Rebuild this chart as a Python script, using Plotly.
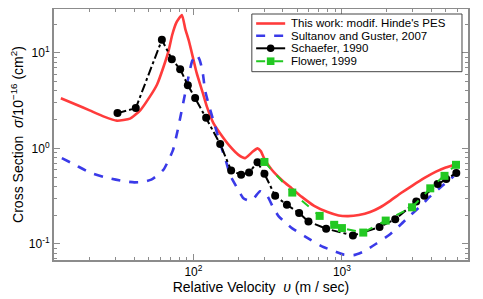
import plotly.graph_objects as go

# This work: modif. Hinde's PES
red_x = [12.8, 16, 20, 25, 30.5, 37.4, 43.8, 51, 57, 63, 68, 72, 77, 83.6, 88, 93, 100, 105, 115, 123,
         136, 151, 177, 200, 223, 250, 270, 285, 300, 337, 400, 460, 537, 650, 800, 950, 1100, 1300,
         1550, 1800, 2100, 2500, 3000, 3600, 4300, 5000, 5650]
red_y = [3.35, 2.9, 2.5, 2.15, 1.95, 2.05, 2.5, 3.5, 4.7, 7.2, 10.5, 15.5, 21, 25, 18, 13.5, 8.5, 6.2, 3.9, 2.75,
         1.85, 1.44, 1.04, 0.86, 0.79, 0.92, 1.0, 0.93, 0.78, 0.596, 0.455, 0.38, 0.31, 0.25, 0.215, 0.198, 0.195, 0.2,
         0.215, 0.24, 0.28, 0.34, 0.41, 0.49, 0.57, 0.63, 0.67]

# Sultanov and Guster, 2007
blue_x = [13.0, 16, 20, 25, 30, 35, 40, 46, 52, 58, 63, 68, 73, 78, 83, 88, 93, 98, 105, 110, 115, 120,
          130, 140, 151, 165, 177, 200, 217, 235, 255, 281, 313, 340, 374, 420, 460, 566, 733, 900, 1030,
          1200, 1400, 1700, 2100, 2500, 2900, 3400, 3900, 4700, 5650]
blue_y = [0.79, 0.67, 0.56, 0.5, 0.47, 0.45, 0.44, 0.445, 0.47, 0.53, 0.6, 0.75, 0.97, 1.5, 2.4, 3.8, 5.8, 8.2, 9.6, 8.5, 6.5, 4.0,
          2.5, 1.7, 1.13, 0.75, 0.52, 0.37, 0.3, 0.285, 0.3, 0.355, 0.32, 0.25, 0.195, 0.165, 0.146, 0.119, 0.094, 0.083, 0.077,
          0.076, 0.083, 0.1, 0.125, 0.16, 0.2, 0.25, 0.31, 0.4, 0.51]

# Schaefer, 1990
black_x = [30.8, 40.9, 61.3, 71.5, 81.4, 91.7, 102.7, 121.8, 151.4, 179.5, 209.5, 237, 270, 300.7, 355,
           426, 515, 595, 783, 1186, 1792, 2285, 3167, 3588, 4410, 5043, 5890]
black_y = [2.34, 2.64, 13.7, 8.59, 6.75, 4.59, 3.36, 2.09, 1.11, 0.586, 0.528, 0.558, 0.717, 0.541, 0.318,
           0.256, 0.210, 0.171, 0.144, 0.122, 0.150, 0.181, 0.277, 0.318, 0.422, 0.476, 0.550]

# Flower, 1999
green_x = [300.7, 463, 708, 887, 1000, 1392, 1972, 2966, 3935, 4908, 5862]
green_y = [0.72, 0.344, 0.196, 0.158, 0.146, 0.131, 0.175, 0.241, 0.381, 0.515, 0.672]

series_names = ["This work: modif. Hinde's PES", "Sultanov and Guster, 2007", "Schaefer, 1990", "Flower, 1999"]

x_tickvals = [100, 1000]
x_ticktext = ["10<sup>2</sup>", "10<sup>3</sup>"]
y_tickvals = [0.1, 1, 10]
y_ticktext = ["10<sup>-1</sup>", "10<sup>0</sup>", "10<sup>1</sup>"]

FONT = "Liberation Sans, Arial, Helvetica, sans-serif"
RED, BLUE, BLACK, GREEN = "#ff3b3b", "#3a3ae8", "black", "#22c822"

fig = go.Figure()
fig.add_trace(go.Scatter(x=red_x, y=red_y, mode="lines", name=series_names[0],
                         line=dict(color=RED, width=2.6, shape="spline", smoothing=0.5)))
fig.add_trace(go.Scatter(x=blue_x, y=blue_y, mode="lines", name=series_names[1],
                         line=dict(color=BLUE, width=2.6, dash="dash", shape="spline", smoothing=0.5)))
fig.add_trace(go.Scatter(x=black_x, y=black_y, mode="lines+markers", name=series_names[2],
                         line=dict(color=BLACK, width=2, dash="dashdot"),
                         marker=dict(symbol="circle", size=8, color=BLACK)))
fig.add_trace(go.Scatter(x=green_x, y=green_y, mode="lines+markers", name=series_names[3],
                         line=dict(color=GREEN, width=2, dash="dash"),
                         marker=dict(symbol="square", size=8, color=GREEN)))

minor_x = [v * m for v in (10, 100, 1000) for m in range(2, 10)]
minor_y = [v * m for v in (0.01, 0.1, 1, 10) for m in range(2, 10)]

axis_common = dict(type="log", showgrid=False, zeroline=False, showline=True, linecolor="#8c8c8c",
                   linewidth=2, mirror="ticks", ticks="inside", ticklen=6, tickcolor="#8c8c8c",
                   tickfont=dict(family=FONT, size=12, color="black"))

fig.update_xaxes(**axis_common, range=[1.061, 3.849], tickmode="array", tickvals=x_tickvals,
                 ticktext=x_ticktext,
                 minor=dict(tickmode="array", tickvals=minor_x, ticks="inside", ticklen=3,
                            tickcolor="#8c8c8c", showgrid=False),
                 title=dict(text="Relative Velocity  <i>υ</i> (m / sec)", standoff=2,
                            font=dict(family=FONT, size=14, color="black")))
fig.update_yaxes(**axis_common, range=[-1.17, 1.46], tickmode="array", tickvals=y_tickvals,
                 ticktext=y_ticktext,
                 minor=dict(tickmode="array", tickvals=minor_y, ticks="inside", ticklen=3,
                            tickcolor="#8c8c8c", showgrid=False),
                 title=dict(text="Cross Section  <i>σ</i>/10<sup>−16</sup> (cm<sup>2</sup>)", standoff=4,
                            font=dict(family=FONT, size=14, color="black")))

# Compact legend drawn in plot-area (paper) coordinates
PW, PH = 413.7, 251.0
def px(xp):
    return (xp - 54) / PW
def py(yp):
    return (260 - yp) / PH

shapes = [dict(type="rect", xref="paper", yref="paper", x0=px(251.7), x1=px(461.7), y0=py(71.7), y1=py(14),
               line=dict(color="#444444", width=1), fillcolor="white", layer="above")]
annotations = []
entry_y = [23.5, 35.8, 48.3, 61.2]
styles = [(RED, "solid", 2.6, None), (BLUE, "dash", 2.6, None), (BLACK, "solid", 2, "circle"), (GREEN, "dash", 2, "square")]
for name, yy, (col, dash, w, sym) in zip(series_names, entry_y, styles):
    shapes.append(dict(type="line", xref="paper", yref="paper", x0=px(256), x1=px(285), y0=py(yy), y1=py(yy),
                       line=dict(color=col, width=w, dash=dash), layer="above"))
    if sym:
        r = 3.8
        shapes.append(dict(type="circle" if sym == "circle" else "rect", xref="paper", yref="paper",
                           x0=px(270.5 - r), x1=px(270.5 + r), y0=py(yy + r), y1=py(yy - r),
                           line=dict(color=col, width=0), fillcolor=col, layer="above"))
    annotations.append(dict(text=name, xref="paper", yref="paper", x=px(288.5), y=py(yy), xanchor="left",
                            yanchor="middle", showarrow=False, font=dict(family=FONT, size=11.5, color="black")))

# The page body has an 8px margin, so margins are offset by 8px
fig.update_layout(
    width=483, height=299,
    margin=dict(l=46, r=23, t=1, b=47, autoexpand=False),
    paper_bgcolor="white", plot_bgcolor="white",
    font=dict(family=FONT, size=11, color="black"),
    showlegend=False,
    shapes=shapes, annotations=annotations,
)

fig.write_html("out.html")
